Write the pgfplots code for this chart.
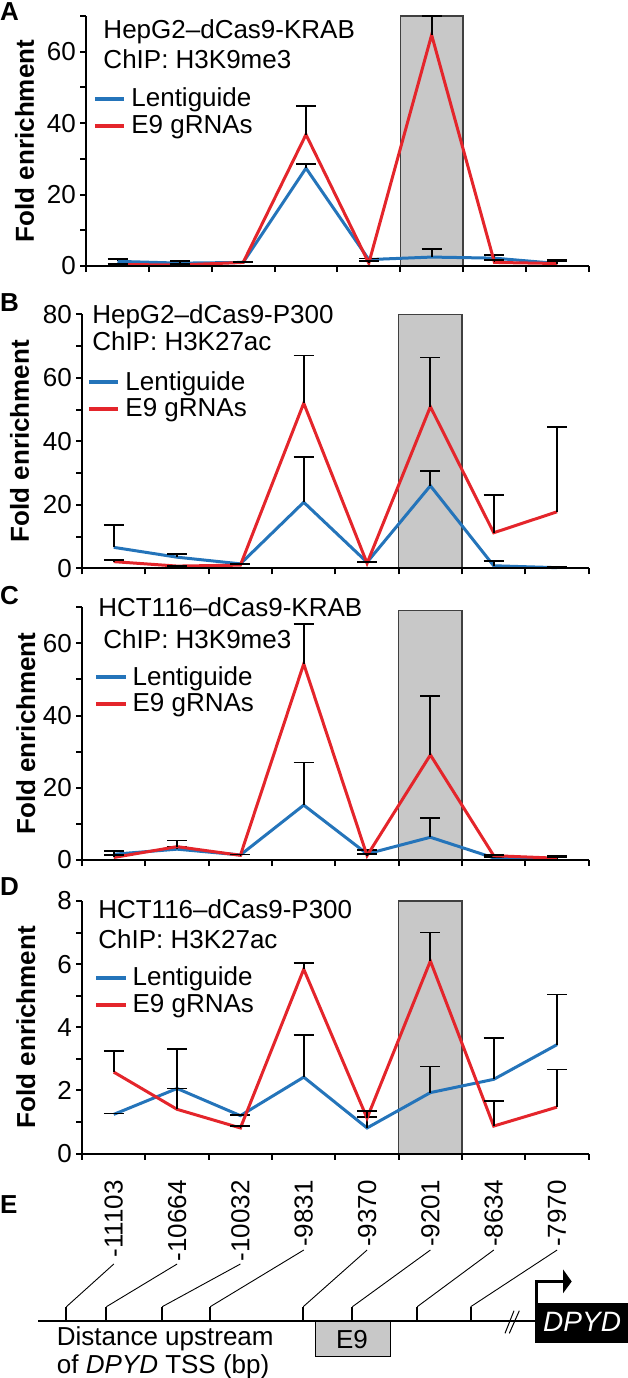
\documentclass[border=0pt]{standalone}
\usepackage{fontspec}
\setmainfont{Liberation Sans}
\usepackage{pgfplots}
\pgfplotsset{compat=1.18}

\definecolor{lentiblue}{HTML}{2474BA}
\definecolor{e9red}{HTML}{E4252B}
\definecolor{boxgray}{HTML}{C8C8C8}

\newcommand{\fs}{\fontsize{26pt}{30pt}\selectfont}
\newcommand{\fsb}{\fontsize{26pt}{30pt}\selectfont\bfseries}

\pgfplotsset{
  panel/.style={
    scale only axis, anchor=south west,
    xmin=0, xmax=8, ymin=0,
    axis lines*=left, axis line style={-, line width=2pt},
    axis on top,
    tick align=outside, major tick length=6pt, minor tick length=6pt,
    tick style={line width=2pt, black},
    xtick={0,...,8}, xticklabels={},
    yticklabel style={font=\fs, inner xsep=4pt, inner ysep=0pt},
    /pgf/number format/assume math mode=true,
    clip=false,
    legend style={anchor=north west, draw=none, fill=none, inner sep=0pt, outer sep=0pt,
      font=\fs, row sep=1.6pt, column sep=5pt,
      nodes={inner sep=0pt, text height=19pt, text depth=6pt}, cells={anchor=west}},
    legend image code/.code={\draw[#1, line width=4pt] (0pt,1.2pt) -- (29.5pt,1.2pt);},
    ylabel={Fold enrichment},
  },
  errs/.style={line width=3pt, mark=none,
    error bars/y dir=plus, error bars/y explicit,
    error bars/error bar style={black, line width=1.8pt},
    error bars/error mark options={black, line width=1.8pt, mark size=10pt, rotate=90}},
  shade/.style={fill=boxgray, draw=black!75, line width=1.2pt, forget plot},
}

\begin{document}
\begin{tikzpicture}
\useasboundingbox (0pt,0pt) rectangle (628pt,-1378pt);

% ---------------- A
\begin{axis}[panel, at={(86.1pt,-266pt)}, width=502.6pt, height=250pt, ymax=70,
  ytick={0,20,40,60}, minor ytick={10,30,50,70},
  every axis y label/.style={at={(axis description cs:-0.1037,0.5)}, rotate=90, anchor=base, font=\fsb},
  legend style={at={(rel axis cs:0.0135,0.7132)}}]
\addplot[shade] coordinates {(5,70) (6,70)} \closedcycle;
\addplot[lentiblue, errs] coordinates {
  (0.5,1.3) +- (0,0.7) (1.5,0.8) +- (0,0.5) (2.5,1.0) +- (0,0.1) (3.5,27.4) +- (0,1.2)
  (4.5,1.8) +- (0,0.3) (5.5,2.5) +- (0,2.2) (6.5,2.2) +- (0,0.8) (7.5,0.7) +- (0,1.1)};
\addlegendentry{Lentiguide}
\addplot[e9red, errs] coordinates {
  (0.5,0.4) +- (0,0.2) (1.5,0.3) +- (0,0.2) (2.5,1.0) +- (0,0.2) (3.5,36.8) +- (0,7.9)
  (4.5,0.8) +- (0,0.7) (5.5,64.7) +- (0,5.4) (6.5,1.0) +- (0,0.6) (7.5,0.7) +- (0,0.6)};
\addlegendentry{E9 gRNAs}
\node[anchor=base west, inner sep=0pt, font=\fs] at (rel axis cs:0.0342,0.9108) {HepG2–dCas9-KRAB};
\node[anchor=base west, inner sep=0pt, font=\fs] at (rel axis cs:0.0342,0.7908) {ChIP: H3K9me3};
\end{axis}

% ---------------- B
\begin{axis}[panel, at={(82.1pt,-568.3pt)}, width=506.6pt, height=254pt, ymax=80,
  ytick={0,20,40,60,80}, minor ytick={10,30,50,70},
  every axis y label/.style={at={(axis description cs:-0.1052,0.5)}, rotate=90, anchor=base, font=\fsb},
  legend style={at={(rel axis cs:0.0095,0.7768)}}]
\addplot[shade] coordinates {(5,80) (6,80)} \closedcycle;
\addplot[lentiblue, errs] coordinates {
  (0.5,6.6) +- (0,7.0) (1.5,3.5) +- (0,0.9) (2.5,1.4) +- (0,0.1) (3.5,20.8) +- (0,14.2)
  (4.5,1.9) +- (0,0.1) (5.5,26.0) +- (0,4.6) (6.5,0.8) +- (0,1.5) (7.5,0.2) +- (0,0.1)};
\addlegendentry{Lentiguide}
\addplot[e9red, errs] coordinates {
  (0.5,2.1) +- (0,0.4) (1.5,0.7) +- (0,0.1) (2.5,1.0) +- (0,0.4) (3.5,52.0) +- (0,15.0)
  (4.5,1.6) +- (0,0.3) (5.5,50.9) +- (0,15.5) (6.5,11.2) +- (0,11.8) (7.5,17.8) +- (0,26.7)};
\addlegendentry{E9 gRNAs}
\node[anchor=base west, inner sep=0pt, font=\fs] at (rel axis cs:0.0197,0.9646) {HepG2–dCas9-P300};
\node[anchor=base west, inner sep=0pt, font=\fs] at (rel axis cs:0.0197,0.8567) {ChIP: H3K27ac};
\end{axis}

% ---------------- C
\begin{axis}[panel, at={(82.1pt,-860pt)}, width=506.6pt, height=252.8pt, ymax=70,
  ytick={0,20,40,60}, minor ytick={10,30,50,70},
  every axis y label/.style={at={(axis description cs:-0.0926,0.5)}, rotate=90, anchor=base, font=\fsb},
  legend style={at={(rel axis cs:0.0237,0.7674)}}]
\addplot[shade] coordinates {(5,69) (6,69)} \closedcycle;
\addplot[lentiblue, errs] coordinates {
  (0.5,1.6) +- (0,1.0) (1.5,3.0) +- (0,0.7) (2.5,1.4) +- (0,0.1) (3.5,15.2) +- (0,11.8)
  (4.5,1.7) +- (0,1.1) (5.5,6.3) +- (0,5.4) (6.5,0.6) +- (0,0.2) (7.5,0.3) +- (0,0.8)};
\addlegendentry{Lentiguide}
\addplot[e9red, errs] coordinates {
  (0.5,0.7) +- (0,0.6) (1.5,3.7) +- (0,1.7) (2.5,1.3) +- (0,0.2) (3.5,54.3) +- (0,11.1)
  (4.5,1.2) +- (0,0.4) (5.5,29.1) +- (0,16.3) (6.5,1.2) +- (0,0.2) (7.5,0.5) +- (0,0.3)};
\addlegendentry{E9 gRNAs}
\node[anchor=base west, inner sep=0pt, font=\fs] at (rel axis cs:0.0316,0.9624) {HCT116–dCas9-KRAB};
\node[anchor=base west, inner sep=0pt, font=\fs] at (rel axis cs:0.0418,0.8374) {ChIP: H3K9me3};
\end{axis}

% ---------------- D
\begin{axis}[panel, at={(82.1pt,-1153.5pt)}, width=506.6pt, height=252.5pt, ymax=8,
  ytick={0,2,4,6,8}, minor ytick={1,3,5,7},
  every axis y label/.style={at={(axis description cs:-0.0926,0.5)}, rotate=90, anchor=base, font=\fsb},
  legend style={at={(rel axis cs:0.0237,0.7398)}},
  extra x ticks={0.5,1.5,2.5,3.5,4.5,5.5,6.5,7.5},
  extra x tick labels={-11103,-10664,-10032,-9831,-9370,-9201,-8634,-7970},
  extra x tick style={major tick length=0pt,
    xticklabel style={rotate=90, anchor=east, inner xsep=26.5pt, inner ysep=0pt, font=\fs}}]
\addplot[shade] coordinates {(5,8) (6,8)} \closedcycle;
\addplot[lentiblue, errs] coordinates {
  (0.5,1.24) +- (0,0.03) (1.5,2.06) +- (0,1.24) (2.5,1.20) +- (0,0.03) (3.5,2.42) +- (0,1.33)
  (4.5,0.81) +- (0,0.34) (5.5,1.93) +- (0,0.83) (6.5,2.35) +- (0,1.31) (7.5,3.45) +- (0,1.59)};
\addlegendentry{Lentiguide}
\addplot[e9red, errs] coordinates {
  (0.5,2.58) +- (0,0.67) (1.5,1.40) +- (0,0.66) (2.5,0.81) +- (0,0.07) (3.5,5.84) +- (0,0.20)
  (4.5,1.12) +- (0,0.22) (5.5,6.10) +- (0,0.90) (6.5,0.87) +- (0,0.79) (7.5,1.47) +- (0,1.19)};
\addlegendentry{E9 gRNAs}
\node[anchor=base west, inner sep=0pt, font=\fs] at (rel axis cs:0.0316,0.9315) {HCT116–dCas9-P300};
\node[anchor=base west, inner sep=0pt, font=\fs] at (rel axis cs:0.0316,0.8127) {ChIP: H3K27ac};
\end{axis}

% panel letters
\node[anchor=base west, inner sep=0pt, font=\fsb] at (0pt,-21pt) {A};
\node[anchor=base west, inner sep=0pt, font=\fsb] at (0pt,-311.7pt) {B};
\node[anchor=base west, inner sep=0pt, font=\fsb] at (0pt,-604pt) {C};
\node[anchor=base west, inner sep=0pt, font=\fsb] at (0pt,-895pt) {D};
\node[anchor=base west, inner sep=0pt, font=\fsb] at (0pt,-1213pt) {E};

% ---------------- E: locus map
\draw[line width=2pt] (38.3pt,-1321pt) -- (535pt,-1321pt);
\foreach \lx/\tx/\ty in {113.8/66.4/1264, 177.1/106.4/1264, 240.4/162.2/1264, 303.8/210.2/1250,
    367.1/303.2/1250, 430.4/352.4/1250, 493.8/417.2/1250, 557.1/470.7/1250} {
  \draw[line width=0.9pt] (\lx pt,-\ty pt) -- (\tx pt,-1306.7pt);
  \draw[line width=2pt] (\tx pt,-1306.7pt) -- (\tx pt,-1321pt);
}
\draw[line width=1pt] (505pt,-1333.3pt) -- (514pt,-1310.7pt);
\draw[line width=1pt] (509.3pt,-1333.3pt) -- (519.3pt,-1310.7pt);
\draw[fill=boxgray, line width=1.3pt] (315.2pt,-1321pt) rectangle (390.5pt,-1356.7pt);
\node[anchor=base, inner sep=0pt, font=\fs] at (352pt,-1348.3pt) {E9};
\fill[black] (535pt,-1302.7pt) rectangle (628pt,-1342.7pt);
\node[anchor=base west, inner sep=0pt, text=white, font=\fontsize{28pt}{30pt}\selectfont\itshape] at (543pt,-1331.7pt) {DPYD};
\draw[line width=2.5pt] (536.5pt,-1302.7pt) -- (536.5pt,-1281.7pt) -- (564pt,-1281.7pt);
\fill[black] (563pt,-1269.3pt) -- (571.7pt,-1281.5pt) -- (563pt,-1293.3pt) -- cycle;
\node[anchor=base west, inner sep=0pt, font=\fs] at (56.7pt,-1345pt) {Distance upstream};
\node[anchor=base west, inner sep=0pt, font=\fs] at (56.7pt,-1373.3pt) {of \textit{DPYD} TSS (bp)};
\end{tikzpicture}
\end{document}
